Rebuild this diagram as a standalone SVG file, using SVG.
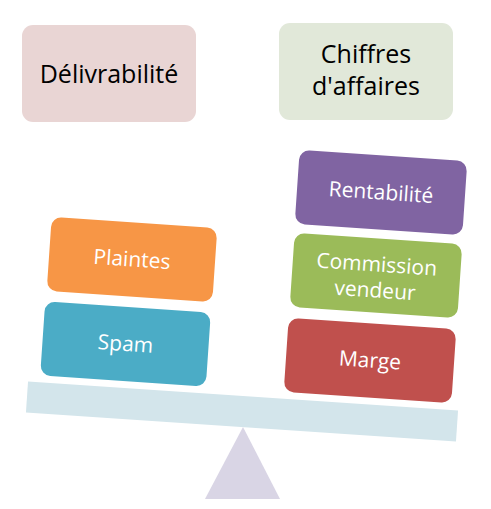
<svg xmlns="http://www.w3.org/2000/svg" width="491" height="509" viewBox="0 0 491 509">
<style>
.t{font-family:"Open Sans","Noto Sans",sans-serif;text-anchor:middle}
.w{fill:#ffffff;font-size:21px}
.k{fill:#000000;font-size:25px}
</style>
<rect width="491" height="509" fill="#ffffff"/>
<g id="support"><polygon points="243,427 205,499 280,499" fill="#d9d5e5"/></g>
<g id="beam"><rect x="26.5" y="396" width="431" height="31" fill="#d3e5eb" transform="rotate(3.86 242 411.5)"/></g>
<g id="delivrabilite">
<rect x="22" y="25" width="174" height="97" rx="11" fill="#e9d5d4"/>
<text class="t k" x="109" y="83">Délivrabilité</text>
</g>
<g id="chiffres">
<rect x="279" y="23" width="174" height="97" rx="11" fill="#e1e8d9"/>
<text class="t k" x="366" y="63">Chiffres</text>
<text class="t k" x="366" y="95">d'affaires</text>
</g>
<g id="plaintes" transform="translate(132 259.5) rotate(3.9)">
<rect x="-83" y="-37" width="166" height="74" rx="10" fill="#f79646"/>
<text class="t w" x="0" y="7">Plaintes</text>
</g>
<g id="spam" transform="translate(125.5 344) rotate(3.9)">
<rect x="-83" y="-37" width="166" height="74" rx="10" fill="#4bacc6"/>
<text class="t w" x="0" y="7">Spam</text>
</g>
<g id="rentabilite" transform="translate(381 192.5) rotate(3.9)">
<rect x="-84" y="-37" width="168" height="74" rx="10" fill="#8064a2"/>
<text class="t w" x="0" y="7">Rentabilité</text>
</g>
<g id="commission" transform="translate(376 275.5) rotate(3.9)">
<rect x="-84" y="-37" width="168" height="74" rx="10" fill="#9bbb59"/>
<text class="t w" x="0" y="-4">Commission</text>
<text class="t w" x="0" y="22">vendeur</text>
</g>
<g id="marge" transform="translate(370 360.5) rotate(3.9)">
<rect x="-84" y="-37" width="168" height="74" rx="10" fill="#c0504d"/>
<text class="t w" x="0" y="7">Marge</text>
</g>
</svg>
